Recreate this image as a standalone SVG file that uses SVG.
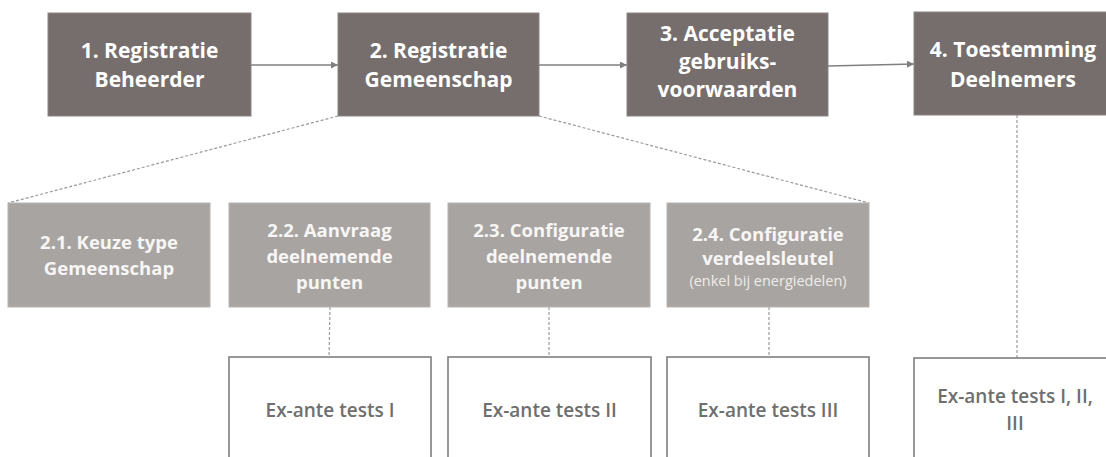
<svg xmlns="http://www.w3.org/2000/svg" width="1106" height="457" viewBox="0 0 1106 457">
<style>
  .main rect { fill: #766e6c; stroke: #8c8583; stroke-width: 1; }
  .sub rect { fill: #a8a4a1; stroke: #b8b4b1; stroke-width: 1; }
  .test rect { fill: #ffffff; stroke: #7f7f7f; stroke-width: 1.6; }
  .tm { font-family: "Open Sans", "Liberation Sans", sans-serif; font-weight: 700; font-size: 21px; fill: #ffffff; text-anchor: middle; }
  .ts { font-family: "Open Sans", "Liberation Sans", sans-serif; font-weight: 700; font-size: 18.5px; fill: #f7f6f5; text-anchor: middle; }
  .tsmall { font-family: "Open Sans", "Liberation Sans", sans-serif; font-weight: 400; font-size: 14.5px; fill: #eeecea; text-anchor: middle; }
  .tt { font-family: "Open Sans", "Liberation Sans", sans-serif; font-weight: 600; font-size: 19px; fill: #6f6f6f; text-anchor: middle; }
  .arrow { stroke: #7f7f7f; stroke-width: 1.5; fill: none; marker-end: url(#ah); }
  .dash { stroke: #9a9a9a; stroke-width: 1.2; fill: none; stroke-dasharray: 3 2; }
</style>
<defs>
  <marker id="ah" viewBox="0 0 10 10" refX="10" refY="5" markerWidth="7" markerHeight="7" markerUnits="userSpaceOnUse" orient="auto">
    <path d="M0,0 L10,5 L0,10 z" fill="#7f7f7f"/>
  </marker>
</defs>
<rect x="0" y="0" width="1106" height="457" fill="#ffffff"/>

<g id="connectors">
  <line class="arrow" x1="251" y1="65" x2="338" y2="65"/>
  <line class="arrow" x1="539" y1="65" x2="627" y2="65"/>
  <line class="arrow" x1="828" y1="66" x2="914" y2="64"/>
  <line class="dash" x1="338" y1="116" x2="8" y2="203"/>
  <line class="dash" x1="539" y1="116" x2="869" y2="203"/>
  <line class="dash" x1="330" y1="307" x2="329" y2="357"/>
  <line class="dash" x1="549" y1="307" x2="549" y2="357"/>
  <line class="dash" x1="769" y1="307" x2="769" y2="357"/>
  <line class="dash" x1="1017" y1="115" x2="1017" y2="358"/>
</g>

<g id="n1" class="main">
  <rect x="48" y="13" width="203" height="103"/>
  <text class="tm" x="149.5" y="58">1. Registratie</text>
  <text class="tm" x="149.5" y="87">Beheerder</text>
</g>
<g id="n2" class="main">
  <rect x="338" y="13" width="201" height="103"/>
  <text class="tm" x="438.5" y="58">2. Registratie</text>
  <text class="tm" x="438.5" y="87">Gemeenschap</text>
</g>
<g id="n3" class="main">
  <rect x="627" y="13" width="201" height="103"/>
  <text class="tm" x="727.5" y="41">3. Acceptatie</text>
  <text class="tm" x="727.5" y="69">gebruiks-</text>
  <text class="tm" x="727.5" y="97">voorwaarden</text>
</g>
<g id="n4" class="main">
  <rect x="914" y="12" width="200" height="103"/>
  <text class="tm" x="1013" y="57">4. Toestemming</text>
  <text class="tm" x="1013" y="87">Deelnemers</text>
</g>

<g id="n21" class="sub">
  <rect x="8" y="203" width="202" height="104"/>
  <text class="ts" x="109" y="249">2.1. Keuze type</text>
  <text class="ts" x="109" y="275">Gemeenschap</text>
</g>
<g id="n22" class="sub">
  <rect x="229" y="203" width="201" height="104"/>
  <text class="ts" x="329.5" y="237">2.2. Aanvraag</text>
  <text class="ts" x="329.5" y="263">deelnemende</text>
  <text class="ts" x="329.5" y="289">punten</text>
</g>
<g id="n23" class="sub">
  <rect x="448" y="203" width="202" height="104"/>
  <text class="ts" x="549" y="237">2.3. Configuratie</text>
  <text class="ts" x="549" y="263">deelnemende</text>
  <text class="ts" x="549" y="289">punten</text>
</g>
<g id="n24" class="sub">
  <rect x="667" y="203" width="202" height="104"/>
  <text class="ts" x="768" y="241">2.4. Configuratie</text>
  <text class="ts" x="768" y="265">verdeelsleutel</text>
  <text class="tsmall" x="768" y="286">(enkel bij energiedelen)</text>
</g>

<g id="t22" class="test">
  <rect x="229" y="357" width="202" height="115"/>
  <text class="tt" x="330" y="417">Ex-ante tests I</text>
</g>
<g id="t23" class="test">
  <rect x="448" y="357" width="203" height="115"/>
  <text class="tt" x="549.5" y="417">Ex-ante tests II</text>
</g>
<g id="t24" class="test">
  <rect x="667" y="357" width="202" height="115"/>
  <text class="tt" x="768" y="417">Ex-ante tests III</text>
</g>
<g id="t4" class="test">
  <rect x="914" y="358" width="202" height="115"/>
  <text class="tt" x="1015" y="403">Ex-ante tests I, II,</text>
  <text class="tt" x="1015" y="430">III</text>
</g>
</svg>
